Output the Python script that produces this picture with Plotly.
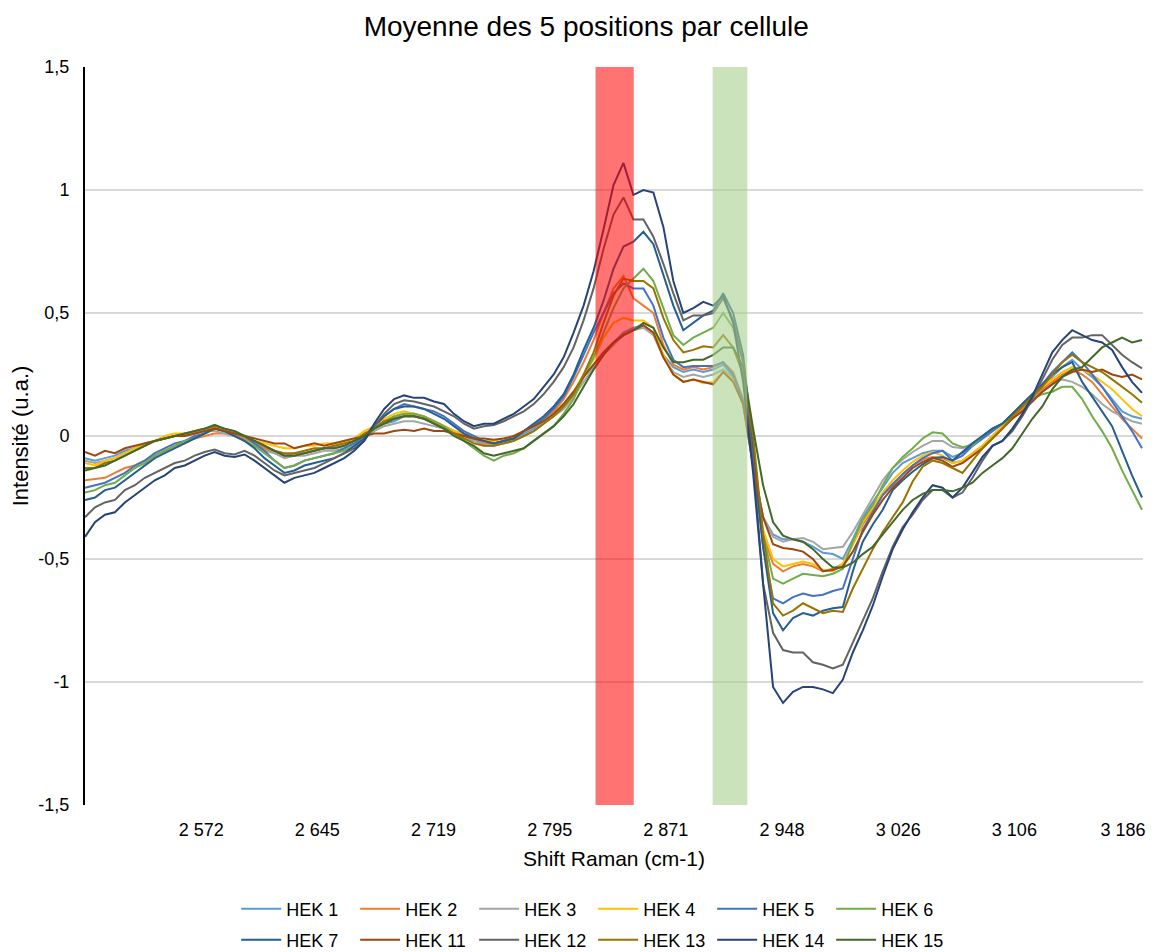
import numpy as np
import plotly.graph_objects as go

FONT = "Liberation Sans, Arial, sans-serif"

# Raman shift tick labels and their position along the sample index
tick_shift = [2572, 2645, 2719, 2795, 2871, 2948, 3026, 3106, 3186]
tick_labels = ["2 572", "2 645", "2 719", "2 795", "2 871", "2 948", "3 026", "3 106", "3 186"]
tick_idx = [11.65, 23.3, 34.95, 46.6, 58.25, 69.9, 81.55, 93.2, 104.1]

# Highlighted Raman bands (cm-1)
red_band = [2825, 2850]
green_band = [2902, 2925]

# Mean spectra (5 positions per cell), 107 samples each
HEK_1 = [-0.09, -0.10, -0.09, -0.08, -0.06, -0.05, -0.03, -0.02, -0.01, 0.00, 0.01, 0.01, 0.02, 0.03, 0.02, 0.01, -0.01, -0.03, -0.05, -0.06, -0.08, -0.07, -0.07, -0.06, -0.05, -0.05, -0.04, -0.02, 0.00,
         0.03, 0.05, 0.06, 0.08, 0.08, 0.07, 0.06, 0.04, 0.02, 0.00, -0.02, -0.03, -0.03, -0.02, -0.01, 0.01, 0.03,
         0.06, 0.09, 0.13, 0.18, 0.24, 0.29, 0.34, 0.38, 0.42, 0.44, 0.45, 0.42, 0.33, 0.28, 0.26, 0.27, 0.26, 0.27, 0.29, 0.24, 0.13,
         -0.12, -0.33, -0.40, -0.42, -0.42, -0.43, -0.45, -0.475, -0.48, -0.50, -0.42, -0.33, -0.27, -0.21, -0.15, -0.11, -0.09, -0.07, -0.06, -0.06, -0.085, -0.07, -0.04, -0.01, 0.02,
         0.05, 0.09, 0.13, 0.17, 0.20, 0.24, 0.28, 0.31, 0.27, 0.24, 0.20, 0.15, 0.10, 0.08, 0.07]
HEK_2 = [-0.18, -0.175, -0.17, -0.15, -0.13, -0.12, -0.10, -0.08, -0.06, -0.04, -0.03, -0.01, 0.00, 0.01, 0.01, 0.00, -0.01, -0.03, -0.05, -0.07, -0.08, -0.08, -0.07, -0.06, -0.05, -0.04, -0.03, -0.02, 0.00,
         0.03, 0.06, 0.08, 0.09, 0.09, 0.08, 0.06, 0.04, 0.02, 0.00, -0.01, -0.03, -0.03, -0.02, -0.01, 0.02, 0.04,
         0.07, 0.10, 0.15, 0.22, 0.30, 0.39, 0.50, 0.60, 0.65, 0.56, 0.53, 0.50, 0.37, 0.29, 0.27, 0.28, 0.27, 0.28, 0.30, 0.26, 0.15,
         -0.10, -0.40, -0.52, -0.55, -0.53, -0.52, -0.53, -0.55, -0.54, -0.52, -0.44, -0.36, -0.30, -0.24, -0.20, -0.155, -0.12, -0.095, -0.085, -0.09, -0.11, -0.10, -0.07, -0.04, 0.00,
         0.04, 0.07, 0.11, 0.15, 0.19, 0.22, 0.25, 0.27, 0.25, 0.22, 0.17, 0.12, 0.07, 0.03, -0.01]
HEK_3 = [-0.10, -0.11, -0.10, -0.09, -0.07, -0.05, -0.04, -0.02, -0.01, 0.00, 0.00, 0.01, 0.02, 0.02, 0.01, 0.00, -0.02, -0.04, -0.06, -0.07, -0.09, -0.08, -0.08, -0.07, -0.06, -0.06, -0.05, -0.03, -0.01,
         0.02, 0.04, 0.05, 0.06, 0.06, 0.05, 0.04, 0.03, 0.01, -0.01, -0.02, -0.04, -0.04, -0.03, -0.02, 0.00, 0.02,
         0.05, 0.08, 0.11, 0.16, 0.22, 0.28, 0.33, 0.37, 0.41, 0.43, 0.44, 0.41, 0.32, 0.26, 0.24, 0.25, 0.24, 0.25, 0.27, 0.23, 0.13,
         -0.12, -0.33, -0.41, -0.43, -0.42, -0.415, -0.43, -0.46, -0.455, -0.45, -0.39, -0.32, -0.25, -0.18, -0.13, -0.095, -0.065, -0.04, -0.02, -0.02, -0.045, -0.05, -0.03, 0.00, 0.03,
         0.05, 0.08, 0.12, 0.15, 0.18, 0.21, 0.23, 0.22, 0.20, 0.17, 0.13, 0.10, 0.08, 0.06, 0.05]
HEK_4 = [-0.11, -0.12, -0.10, -0.09, -0.07, -0.05, -0.03, -0.02, 0.00, 0.01, 0.01, 0.02, 0.03, 0.03, 0.02, 0.01, 0.00, -0.02, -0.03, -0.04, -0.05, -0.05, -0.04, -0.04, -0.03, -0.03, -0.02, -0.01, 0.02,
         0.04, 0.07, 0.09, 0.10, 0.09, 0.08, 0.06, 0.04, 0.02, 0.01, -0.01, -0.02, -0.02, -0.01, 0.00, 0.02, 0.04,
         0.06, 0.09, 0.13, 0.18, 0.25, 0.31, 0.40, 0.46, 0.48, 0.47, 0.47, 0.44, 0.33, 0.25, 0.22, 0.23, 0.215, 0.22, 0.26, 0.23, 0.13,
         -0.10, -0.38, -0.50, -0.53, -0.52, -0.51, -0.52, -0.545, -0.55, -0.52, -0.44, -0.35, -0.29, -0.23, -0.18, -0.14, -0.105, -0.08, -0.065, -0.08, -0.11, -0.10, -0.07, -0.04, 0.00,
         0.04, 0.09, 0.12, 0.16, 0.20, 0.23, 0.26, 0.28, 0.27, 0.25, 0.22, 0.19, 0.15, 0.11, 0.08]
HEK_5 = [-0.21, -0.20, -0.19, -0.17, -0.15, -0.12, -0.10, -0.07, -0.05, -0.03, -0.02, 0.00, 0.01, 0.03, 0.02, 0.01, 0.00, -0.03, -0.06, -0.10, -0.13, -0.12, -0.10, -0.09, -0.08, -0.07, -0.05, -0.03, 0.00,
         0.04, 0.08, 0.11, 0.13, 0.12, 0.11, 0.10, 0.08, 0.05, 0.02, 0.00, -0.02, -0.03, -0.02, -0.01, 0.02, 0.04,
         0.07, 0.11, 0.16, 0.24, 0.33, 0.42, 0.50, 0.58, 0.62, 0.60, 0.60, 0.53, 0.40, 0.31, 0.28, 0.285, 0.285, 0.285, 0.30, 0.25, 0.14,
         -0.10, -0.45, -0.66, -0.68, -0.655, -0.64, -0.65, -0.645, -0.63, -0.62, -0.50, -0.38, -0.31, -0.24, -0.195, -0.155, -0.12, -0.09, -0.07, -0.06, -0.10, -0.08, -0.04, -0.01, 0.02,
         0.05, 0.09, 0.13, 0.17, 0.21, 0.26, 0.30, 0.34, 0.30, 0.25, 0.20, 0.14, 0.08, 0.02, -0.05]
HEK_6 = [-0.23, -0.22, -0.20, -0.19, -0.16, -0.13, -0.11, -0.08, -0.06, -0.04, -0.02, -0.01, 0.01, 0.03, 0.02, 0.00, -0.02, -0.04, -0.07, -0.10, -0.13, -0.12, -0.10, -0.09, -0.08, -0.07, -0.06, -0.04, -0.01,
         0.03, 0.06, 0.08, 0.09, 0.09, 0.08, 0.06, 0.04, 0.01, -0.02, -0.05, -0.08, -0.10, -0.08, -0.07, -0.05, -0.02,
         0.01, 0.04, 0.09, 0.15, 0.24, 0.32, 0.42, 0.52, 0.60, 0.64, 0.68, 0.63, 0.52, 0.41, 0.37, 0.40, 0.42, 0.44, 0.50, 0.44, 0.30,
         -0.05, -0.40, -0.58, -0.60, -0.58, -0.56, -0.565, -0.57, -0.56, -0.54, -0.43, -0.34, -0.28, -0.20, -0.13, -0.085, -0.05, -0.01, 0.015, 0.01, -0.03, -0.045, -0.04, 0.00, 0.03,
         0.05, 0.08, 0.12, 0.15, 0.17, 0.18, 0.20, 0.20, 0.15, 0.08, 0.02, -0.05, -0.14, -0.22, -0.30]
HEK_7 = [-0.26, -0.25, -0.22, -0.21, -0.18, -0.15, -0.12, -0.09, -0.07, -0.05, -0.03, -0.01, 0.01, 0.03, 0.02, 0.00, -0.02, -0.05, -0.09, -0.12, -0.15, -0.14, -0.12, -0.11, -0.10, -0.09, -0.07, -0.04, -0.01,
         0.04, 0.08, 0.11, 0.12, 0.12, 0.11, 0.09, 0.07, 0.04, 0.01, -0.01, -0.02, -0.03, -0.02, -0.01, 0.02, 0.05,
         0.08, 0.12, 0.17, 0.25, 0.35, 0.44, 0.55, 0.68, 0.77, 0.79, 0.83, 0.78, 0.65, 0.53, 0.43, 0.46, 0.49, 0.51, 0.58, 0.50, 0.33,
         -0.05, -0.45, -0.72, -0.79, -0.74, -0.72, -0.73, -0.71, -0.70, -0.695, -0.55, -0.43, -0.36, -0.30, -0.22, -0.18, -0.145, -0.115, -0.09, -0.085, -0.10, -0.065, -0.03, 0.00, 0.03,
         0.05, 0.09, 0.13, 0.17, 0.21, 0.25, 0.28, 0.30, 0.22, 0.16, 0.10, 0.04, -0.06, -0.16, -0.25]
HEK_11 = [-0.065, -0.08, -0.06, -0.07, -0.05, -0.04, -0.03, -0.02, -0.01, 0.00, 0.00, 0.01, 0.02, 0.03, 0.02, 0.01, 0.00, -0.01, -0.02, -0.03, -0.03, -0.05, -0.04, -0.03, -0.04, -0.03, -0.02, -0.01, 0.00,
          0.01, 0.01, 0.02, 0.025, 0.02, 0.03, 0.02, 0.02, 0.01, 0.00, -0.01, -0.01, -0.015, -0.01, 0.00, 0.02, 0.04,
          0.06, 0.09, 0.13, 0.18, 0.24, 0.29, 0.34, 0.38, 0.41, 0.43, 0.45, 0.42, 0.32, 0.25, 0.22, 0.23, 0.22, 0.21, 0.26, 0.22, 0.13,
          -0.12, -0.33, -0.44, -0.455, -0.46, -0.47, -0.50, -0.55, -0.545, -0.53, -0.47, -0.39, -0.32, -0.26, -0.21, -0.17, -0.13, -0.105, -0.09, -0.10, -0.125, -0.11, -0.08, -0.05, -0.01,
          0.03, 0.07, 0.10, 0.14, 0.18, 0.21, 0.24, 0.26, 0.27, 0.26, 0.27, 0.25, 0.24, 0.25, 0.23]
HEK_12 = [-0.33, -0.29, -0.27, -0.26, -0.22, -0.20, -0.17, -0.15, -0.13, -0.11, -0.10, -0.08, -0.065, -0.055, -0.07, -0.075, -0.06, -0.08, -0.11, -0.14, -0.16, -0.15, -0.14, -0.13, -0.11, -0.09, -0.07, -0.05, -0.02,
          0.04, 0.09, 0.13, 0.145, 0.14, 0.13, 0.12, 0.10, 0.08, 0.05, 0.03, 0.04, 0.045, 0.06, 0.08, 0.10, 0.13,
          0.17, 0.22, 0.28, 0.36, 0.47, 0.60, 0.76, 0.90, 0.97, 0.88, 0.88, 0.81, 0.70, 0.58, 0.47, 0.49, 0.49, 0.50, 0.56, 0.47, 0.30,
          -0.10, -0.60, -0.80, -0.87, -0.88, -0.88, -0.92, -0.93, -0.945, -0.93, -0.84, -0.75, -0.66, -0.55, -0.45, -0.37, -0.32, -0.26, -0.22, -0.22, -0.25, -0.23, -0.17, -0.10, -0.04,
          -0.02, 0.02, 0.08, 0.15, 0.23, 0.31, 0.37, 0.40, 0.40, 0.41, 0.41, 0.37, 0.33, 0.30, 0.275]
HEK_13 = [-0.13, -0.13, -0.11, -0.10, -0.08, -0.06, -0.04, -0.02, -0.01, 0.00, 0.01, 0.02, 0.03, 0.04, 0.03, 0.02, 0.00, -0.02, -0.04, -0.06, -0.07, -0.07, -0.06, -0.05, -0.05, -0.04, -0.03, -0.02, 0.01,
          0.03, 0.06, 0.07, 0.08, 0.08, 0.07, 0.05, 0.03, 0.01, -0.01, -0.03, -0.04, -0.04, -0.03, -0.02, 0.00, 0.02,
          0.05, 0.08, 0.12, 0.17, 0.25, 0.34, 0.46, 0.57, 0.64, 0.63, 0.63, 0.60, 0.48, 0.39, 0.34, 0.35, 0.365, 0.36, 0.41, 0.36, 0.25,
          0.00, -0.40, -0.68, -0.73, -0.71, -0.68, -0.70, -0.72, -0.71, -0.715, -0.62, -0.54, -0.46, -0.39, -0.33, -0.27, -0.185, -0.125, -0.10, -0.11, -0.13, -0.15, -0.10, -0.05, -0.01,
          0.03, 0.08, 0.12, 0.16, 0.20, 0.25, 0.30, 0.33, 0.30, 0.28, 0.26, 0.23, 0.20, 0.17, 0.135]
HEK_14 = [-0.41, -0.35, -0.32, -0.31, -0.27, -0.24, -0.21, -0.18, -0.16, -0.13, -0.12, -0.10, -0.08, -0.065, -0.08, -0.085, -0.075, -0.10, -0.13, -0.16, -0.19, -0.17, -0.16, -0.15, -0.13, -0.11, -0.09, -0.06, -0.02,
          0.05, 0.11, 0.15, 0.165, 0.155, 0.155, 0.14, 0.13, 0.09, 0.06, 0.04, 0.05, 0.05, 0.07, 0.09, 0.12, 0.15,
          0.20, 0.25, 0.32, 0.42, 0.53, 0.67, 0.84, 1.02, 1.11, 0.98, 1.00, 0.99, 0.85, 0.63, 0.50, 0.52, 0.545, 0.53, 0.57, 0.46, 0.22,
          -0.15, -0.60, -1.02, -1.085, -1.04, -1.02, -1.02, -1.03, -1.045, -0.99, -0.88, -0.79, -0.69, -0.57, -0.46, -0.38, -0.31, -0.25, -0.20, -0.21, -0.25, -0.21, -0.15, -0.085, -0.04,
          -0.02, 0.03, 0.09, 0.16, 0.25, 0.34, 0.39, 0.43, 0.41, 0.39, 0.38, 0.35, 0.28, 0.22, 0.175]
HEK_15 = [-0.14, -0.13, -0.12, -0.10, -0.08, -0.06, -0.04, -0.02, -0.01, 0.00, 0.01, 0.02, 0.03, 0.045, 0.03, 0.02, 0.00, -0.02, -0.04, -0.06, -0.08, -0.08, -0.07, -0.06, -0.05, -0.05, -0.04, -0.02, 0.00,
          0.03, 0.05, 0.07, 0.08, 0.08, 0.07, 0.05, 0.03, 0.00, -0.02, -0.04, -0.07, -0.08, -0.07, -0.06, -0.05, -0.02,
          0.01, 0.04, 0.08, 0.13, 0.20, 0.27, 0.33, 0.38, 0.41, 0.43, 0.46, 0.44, 0.36, 0.30, 0.30, 0.31, 0.31, 0.33, 0.36, 0.36, 0.28,
          0.03, -0.20, -0.35, -0.405, -0.42, -0.43, -0.46, -0.50, -0.535, -0.535, -0.515, -0.48, -0.45, -0.40, -0.35, -0.30, -0.26, -0.235, -0.22, -0.22, -0.225, -0.21, -0.19, -0.15, -0.12,
          -0.09, -0.05, 0.01, 0.07, 0.12, 0.19, 0.24, 0.27, 0.28, 0.32, 0.36, 0.38, 0.40, 0.38, 0.39]

series = [
    ("HEK 1", HEK_1, "#5B9BD5", "legend"),
    ("HEK 2", HEK_2, "#ED7D31", "legend"),
    ("HEK 3", HEK_3, "#A5A5A5", "legend"),
    ("HEK 4", HEK_4, "#FFC000", "legend"),
    ("HEK 5", HEK_5, "#4472C4", "legend"),
    ("HEK 6", HEK_6, "#70AD47", "legend"),
    ("HEK 7", HEK_7, "#255E91", "legend2"),
    ("HEK 11", HEK_11, "#9E480E", "legend2"),
    ("HEK 12", HEK_12, "#636363", "legend2"),
    ("HEK 13", HEK_13, "#997300", "legend2"),
    ("HEK 14", HEK_14, "#264478", "legend2"),
    ("HEK 15", HEK_15, "#43682B", "legend2"),
]

fig = go.Figure()
for name, values, color, leg in series:
    fig.add_trace(go.Scatter(
        x=np.arange(len(values)), y=values, name=name, mode="lines",
        line=dict(color=color, width=2), legend=leg,
    ))


def band_index(band):
    return np.interp(band, tick_shift, tick_idx)


r0, r1 = band_index(red_band)
g0, g1 = band_index(green_band)
fig.add_shape(type="rect", xref="x", yref="paper", x0=r0, x1=r1, y0=0, y1=1,
              fillcolor="rgba(255,0,0,0.55)", line_width=0, layer="above")
fig.add_shape(type="rect", xref="x", yref="paper", x0=g0, x1=g1, y0=0, y1=1,
              fillcolor="rgba(169,209,142,0.6)", line_width=0, layer="above")

legend_style = dict(
    orientation="h", xref="container", yref="container",
    x=0.514, xanchor="center", yanchor="middle",
    font=dict(family=FONT, size=18, color="#000000"),
    itemwidth=40, entrywidth=64, entrywidthmode="pixels",
    bgcolor="rgba(0,0,0,0)", traceorder="normal",
)

fig.update_layout(
    width=1154, height=952,
    margin=dict(l=85, r=8, t=67, b=147),
    paper_bgcolor="white", plot_bgcolor="white",
    title=dict(text="Moyenne des 5 positions par cellule", x=0.508, xanchor="center",
               y=1 - 26 / 952, yanchor="middle",
               font=dict(family=FONT, size=28, color="#000000")),
    font=dict(family=FONT, size=18, color="#000000"),
    xaxis=dict(
        range=[0, 106.1], tickmode="array", tickvals=tick_idx, ticktext=tick_labels,
        showgrid=False, zeroline=False, showline=False, ticks="",
        ticklabelstandoff=12,
        tickfont=dict(family=FONT, size=18, color="#000000"),
        title=dict(text="Shift Raman (cm-1)", font=dict(family=FONT, size=21, color="#000000"), standoff=12),
    ),
    yaxis=dict(
        range=[-1.5, 1.5], tickmode="array",
        tickvals=[-1.5, -1, -0.5, 0, 0.5, 1, 1.5],
        ticktext=["-1,5", "-1", "-0,5", "0", "0,5", "1", "1,5"],
        showgrid=True, gridcolor="#D9D9D9", gridwidth=1.5,
        zeroline=False, showline=True, linecolor="#000000", linewidth=2, ticks="",
        ticklabelstandoff=10,
        tickfont=dict(family=FONT, size=18, color="#000000"),
        title=dict(text="Intensité (u.a.)", font=dict(family=FONT, size=22, color="#000000"), standoff=4),
    ),
    legend=dict(legend_style, y=1 - 909 / 952),
    legend2=dict(legend_style, y=1 - 940 / 952),
    showlegend=True,
)

fig.write_html("out.html")
